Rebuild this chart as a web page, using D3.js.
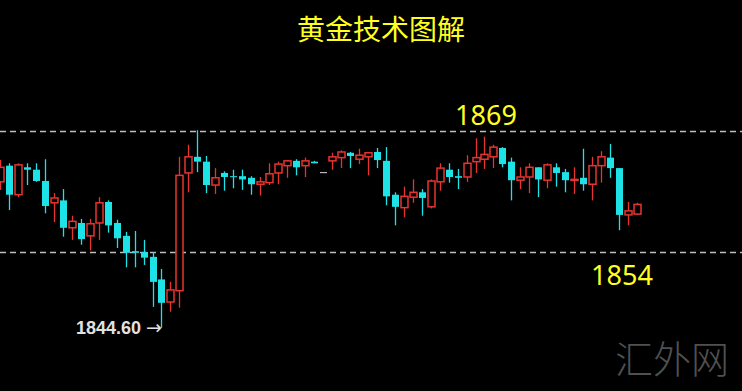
<!DOCTYPE html>
<html>
<head>
<meta charset="utf-8">
<script src="https://cdn.jsdelivr.net/npm/d3@7/dist/d3.min.js"></script>
<style>
  html, body { margin: 0; padding: 0; background: #000; }
  svg { display: block; }
</style>
</head>
<body>
<script>
// candles, oldest to newest
const opens  = [1862.7, 1864.7, 1861.1, 1864.5, 1864.2, 1862.8, 1860.1, 1860.4, 1857.0, 1857.6,
                1856.0, 1857.6, 1860.2, 1857.6, 1856.0, 1854.1, 1854.0, 1853.4, 1850.6, 1847.8,
                1849.2, 1863.8, 1865.8, 1865.2, 1862.3, 1863.8, 1863.4, 1863.4, 1863.2, 1862.4,
                1862.6, 1863.8, 1864.7, 1865.3, 1864.7, 1865.2, 1863.9, 1865.3, 1865.7, 1866.3,
                1865.5, 1865.8, 1866.4, 1865.3, 1861.1, 1859.5, 1860.8, 1861.4, 1859.6, 1862.7,
                1864.2, 1863.4, 1863.3, 1865.2, 1865.5, 1865.8, 1866.9, 1865.2, 1862.9, 1863.3,
                1864.5, 1862.9, 1864.5, 1863.9, 1862.9, 1863.2, 1862.4, 1864.7, 1865.7, 1864.4,
                1858.6, 1858.7];
const highs  = [1865.4, 1865.0, 1865.0, 1865.0, 1865.0, 1865.5, 1861.3, 1861.8, 1858.5, 1858.1,
                1858.1, 1860.8, 1860.4, 1858.0, 1856.5, 1856.6, 1855.5, 1854.0, 1851.9, 1850.3,
                1865.8, 1867.3, 1869.1, 1865.9, 1864.4, 1864.0, 1864.2, 1864.2, 1863.4, 1863.3,
                1865.0, 1865.2, 1865.4, 1865.5, 1865.7, 1865.3, 1863.9, 1866.3, 1866.6, 1866.4,
                1866.8, 1866.4, 1866.9, 1867.0, 1861.4, 1862.1, 1863.0, 1861.8, 1863.0, 1865.0,
                1865.0, 1864.3, 1866.0, 1868.1, 1868.3, 1867.3, 1867.0, 1865.7, 1864.5, 1865.0,
                1864.5, 1865.0, 1865.0, 1864.3, 1864.5, 1866.8, 1865.8, 1866.5, 1867.4, 1864.4,
                1860.2, 1860.1];
const lows   = [1861.7, 1859.2, 1860.8, 1862.3, 1862.7, 1858.8, 1857.7, 1855.9, 1855.5, 1854.9,
                1854.2, 1855.5, 1856.4, 1854.5, 1852.1, 1852.1, 1852.4, 1847.2, 1844.6, 1846.6,
                1847.1, 1861.4, 1863.9, 1861.3, 1861.2, 1861.6, 1861.9, 1861.7, 1861.1, 1861.0,
                1862.3, 1862.4, 1863.2, 1863.5, 1863.3, 1865.0, 1863.9, 1864.2, 1864.4, 1864.4,
                1864.9, 1863.5, 1864.4, 1859.8, 1857.3, 1858.3, 1860.1, 1858.5, 1859.4, 1861.6,
                1862.6, 1861.8, 1862.7, 1863.8, 1864.3, 1864.4, 1864.5, 1860.4, 1861.8, 1861.3,
                1860.8, 1861.9, 1862.1, 1861.4, 1861.2, 1861.6, 1860.4, 1862.6, 1863.2, 1856.7,
                1857.3, 1858.6];
const closes = [1864.5, 1861.1, 1864.8, 1864.2, 1862.8, 1859.7, 1860.7, 1857.0, 1857.8, 1855.6,
                1857.5, 1860.1, 1857.3, 1855.7, 1853.9, 1853.9, 1853.3, 1850.3, 1847.7, 1849.3,
                1863.5, 1865.8, 1865.2, 1862.3, 1863.2, 1863.3, 1863.3, 1863.0, 1862.4, 1862.7,
                1863.7, 1864.9, 1865.3, 1864.5, 1865.3, 1865.0, 1863.9, 1865.8, 1866.4, 1865.9,
                1866.0, 1866.3, 1865.4, 1860.9, 1859.6, 1860.9, 1861.4, 1860.7, 1862.8, 1864.4,
                1863.3, 1863.2, 1865.0, 1865.7, 1866.1, 1867.0, 1864.9, 1862.9, 1863.3, 1864.5,
                1863.0, 1864.8, 1863.8, 1862.9, 1863.0, 1862.4, 1864.7, 1865.8, 1864.4, 1858.6,
                1859.1, 1859.9];

// levels drawn as dashed lines
const niveis = [1869, 1854];
const titulo = "黄金技术图解";
const marca = "汇外网";

const largura = 742;
const altura = 391;

const velas = opens.map(function(o, i) {
  return { i: i, o: o, h: highs[i], l: lows[i], c: closes[i] };
});

const svg = d3.select("body")
              .append("svg")
              .attr("width", largura)
              .attr("height", altura)
              .style("background", "#000");

const xEscala = d3.scaleLinear()
                  .domain([0, velas.length - 1])
                  .range([0, 637]);

const yEscala = d3.scaleLinear()
                  .domain([1854, 1869])
                  .range([252, 131]);

const corAlta = "#e8342f";
const corBaixa = "#1de3e6";
const larg = 7;

function cor(d) {
  if (d.o === d.c) return "#d8d8d8";
  return d.c > d.o ? corAlta : corBaixa;
}

// dashed levels
svg.selectAll("line.nivel")
   .data(niveis)
   .enter()
   .append("line")
   .attr("class", "nivel")
   .attr("x1", 0)
   .attr("x2", largura)
   .attr("y1", function(d) { return Math.round(yEscala(d)) + 0.5; })
   .attr("y2", function(d) { return Math.round(yEscala(d)) + 0.5; })
   .attr("stroke", "#bdbdbd")
   .attr("stroke-width", 1.4)
   .attr("stroke-dasharray", "6,4");

const g = svg.append("g");

// wicks
g.selectAll("line.pavio")
 .data(velas.filter(function(d) { return d.h !== d.l; }))
 .enter()
 .append("line")
 .attr("class", "pavio")
 .attr("x1", function(d) { return Math.round(xEscala(d.i)) + 0.5; })
 .attr("x2", function(d) { return Math.round(xEscala(d.i)) + 0.5; })
 .attr("y1", function(d) { return yEscala(d.h); })
 .attr("y2", function(d) { return yEscala(d.l); })
 .attr("stroke", cor)
 .attr("stroke-width", 1.3);

// bodies
g.selectAll("rect.corpo")
 .data(velas)
 .enter()
 .append("rect")
 .attr("class", "corpo")
 .attr("x", function(d) { return Math.round(xEscala(d.i)) + 0.5 - larg / 2; })
 .attr("width", larg)
 .attr("y", function(d) { return yEscala(Math.max(d.o, d.c)); })
 .attr("height", function(d) { return Math.max(1, yEscala(Math.min(d.o, d.c)) - yEscala(Math.max(d.o, d.c))); })
 .attr("fill", function(d) { return d.c > d.o ? "#000" : cor(d); })
 .attr("stroke", function(d) { return d.c > d.o ? corAlta : "none"; })
 .attr("stroke-width", 1.5);

// title
svg.append("text")
   .attr("x", 381)
   .attr("y", 40)
   .attr("text-anchor", "middle")
   .attr("font-family", "'Noto Sans CJK SC', sans-serif")
   .attr("font-size", 28)
   .attr("fill", "#ffff1e")
   .text(titulo);

// level labels
svg.append("text")
   .attr("x", 486)
   .attr("y", 125)
   .attr("text-anchor", "middle")
   .attr("font-family", "'Noto Sans', sans-serif")
   .attr("font-size", 27)
   .attr("fill", "#ffff1e")
   .text(niveis[0]);

svg.append("text")
   .attr("x", 622)
   .attr("y", 285)
   .attr("text-anchor", "middle")
   .attr("font-family", "'Noto Sans', sans-serif")
   .attr("font-size", 27)
   .attr("fill", "#ffff1e")
   .text(niveis[1]);

// lowest point
const minimo = velas[d3.minIndex(velas, function(d) { return d.l; })];
const xMin = Math.round(xEscala(minimo.i));
const yMin = yEscala(minimo.l);

svg.append("text")
   .attr("x", xMin - 20)
   .attr("y", yMin + 6)
   .attr("text-anchor", "end")
   .attr("font-family", "'Liberation Sans', Arial, sans-serif")
   .attr("font-weight", "bold")
   .attr("font-size", 18)
   .attr("fill", "#e2e2e2")
   .text(d3.format(".2f")(minimo.l));

svg.append("text")
   .attr("x", xMin + 1)
   .attr("y", yMin + 6)
   .attr("text-anchor", "end")
   .attr("font-family", "'DejaVu Sans', sans-serif")
   .attr("font-size", 19)
   .attr("fill", "#e2e2e2")
   .text("→");

// watermark
svg.append("text")
   .attr("x", 672)
   .attr("y", 373)
   .attr("text-anchor", "middle")
   .attr("font-family", "'Noto Sans CJK SC', sans-serif")
   .attr("font-weight", 300)
   .attr("font-size", 38)
   .attr("fill", "#505050")
   .text(marca);
</script>
</body>
</html>
